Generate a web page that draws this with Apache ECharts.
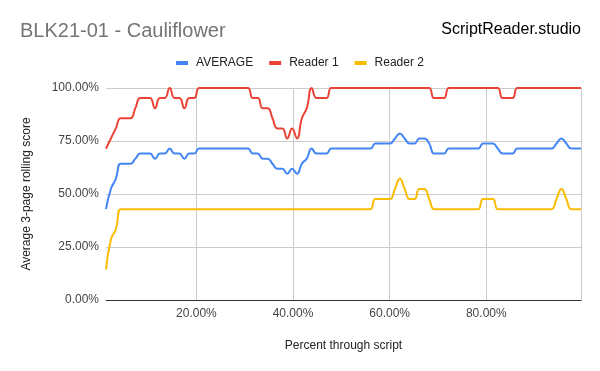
<!DOCTYPE html>
<html>
<head>
<meta charset="utf-8">
<script src="https://cdn.jsdelivr.net/npm/echarts@6/dist/echarts.min.js"></script>
<style>
html,body{margin:0;padding:0;background:#fff;}
#chart{width:600px;height:371px;}
</style>
</head>
<body>
<div id="chart"></div>
<script>
// Percent through script (x positions of data points)
const xs = [1.29,2.30,3.32,4.33,5.34,6.36,7.37,8.38,9.40,10.41,
11.43,12.44,13.45,14.47,15.48,16.49,17.51,18.52,19.53,20.55,
21.56,22.57,23.59,24.60,25.61,26.63,27.64,28.65,29.67,30.68,
31.70,32.71,33.72,34.74,35.75,36.76,37.78,38.79,39.80,40.82,
41.83,42.84,43.86,44.87,45.88,46.90,47.91,48.92,49.94,50.95,
51.97,52.98,53.99,55.01,56.02,57.03,58.05,59.06,60.07,61.09,
62.10,63.11,64.13,65.14,66.15,67.17,68.18,69.19,70.21,71.22,
72.24,73.25,74.26,75.28,76.29,77.30,78.32,79.33,80.34,81.36,
82.37,83.38,84.40,85.41,86.42,87.44,88.45,89.46,90.48,91.49,
92.51,93.52,94.53,95.55,96.56,97.57,98.59,99.60];

const average = [42.86,52.38,57.14,64.29,64.29,64.29,66.67,69.05,69.05,69.05,
66.67,69.05,69.05,71.43,69.05,69.05,66.67,69.05,69.05,71.43,
71.43,71.43,71.43,71.43,71.43,71.43,71.43,71.43,71.43,71.43,
69.05,69.05,66.67,66.67,64.29,61.90,61.90,59.52,61.90,59.52,
64.29,66.67,71.43,69.05,69.05,69.05,71.43,71.43,71.43,71.43,
71.43,71.43,71.43,71.43,71.43,73.81,73.81,73.81,73.81,76.19,
78.57,76.19,73.81,73.81,76.19,76.19,73.81,69.05,69.05,69.05,
71.43,71.43,71.43,71.43,71.43,71.43,71.43,73.81,73.81,73.81,
71.43,69.05,69.05,69.05,71.43,71.43,71.43,71.43,71.43,71.43,
71.43,71.43,73.81,76.19,73.81,71.43,71.43,71.43];

const reader1 = [71.43,76.19,80.95,85.71,85.71,85.71,90.48,95.24,95.24,95.24,
90.48,95.24,95.24,100,95.24,95.24,90.48,95.24,95.24,100,
100,100,100,100,100,100,100,100,100,100,
95.24,95.24,90.48,90.48,85.71,80.95,80.95,76.19,80.95,76.19,
85.71,90.48,100,95.24,95.24,95.24,100,100,100,100,
100,100,100,100,100,100,100,100,100,100,
100,100,100,100,100,100,100,95.24,95.24,95.24,
100,100,100,100,100,100,100,100,100,100,
100,95.24,95.24,95.24,100,100,100,100,100,100,
100,100,100,100,100,100,100,100];

const reader2 = [14.29,28.57,33.33,42.86,42.86,42.86,42.86,42.86,42.86,42.86,
42.86,42.86,42.86,42.86,42.86,42.86,42.86,42.86,42.86,42.86,
42.86,42.86,42.86,42.86,42.86,42.86,42.86,42.86,42.86,42.86,
42.86,42.86,42.86,42.86,42.86,42.86,42.86,42.86,42.86,42.86,
42.86,42.86,42.86,42.86,42.86,42.86,42.86,42.86,42.86,42.86,
42.86,42.86,42.86,42.86,42.86,47.62,47.62,47.62,47.62,52.38,
57.14,52.38,47.62,47.62,52.38,52.38,47.62,42.86,42.86,42.86,
42.86,42.86,42.86,42.86,42.86,42.86,42.86,47.62,47.62,47.62,
42.86,42.86,42.86,42.86,42.86,42.86,42.86,42.86,42.86,42.86,
42.86,42.86,47.62,52.38,47.62,42.86,42.86,42.86];

const seriesNames = ['AVERAGE', 'Reader 1', 'Reader 2'];
const xTickValues = [20, 40, 60, 80];
const yTickValues = [0, 25, 50, 75, 100];

const FONT = '"Liberation Sans", Arial, sans-serif';
const colors = ['#4285F4', '#EA4335', '#FBBC04'];
const pct = v => Number(v).toFixed(2) + '%';
const pairs = arr => xs.map((x, i) => [x, arr[i]]);

const chart = echarts.init(document.getElementById('chart'), null, {renderer: 'canvas'});
chart.setOption({
  animation: false,
  backgroundColor: '#fff',
  color: colors,
  textStyle: {fontFamily: FONT},
  title: [
    {text: 'BLK21-01 - Cauliflower', left: 20, top: 21, padding: 0,
     textStyle: {fontFamily: FONT, fontSize: 20, fontWeight: 'normal', color: '#757575'}},
    {text: 'ScriptReader.studio', right: 19, top: 22, padding: 0,
     textStyle: {fontFamily: FONT, fontSize: 16, fontWeight: 'normal', color: '#000'}}
  ],
  legend: {
    data: seriesNames,
    top: 52, left: 'center',
    icon: 'rect', itemWidth: 12, itemHeight: 4, itemGap: 16,
    textStyle: {fontFamily: FONT, fontSize: 12, color: '#222', padding: [0, 0, 0, 3]}
  },
  grid: {left: 106, right: 19, top: 88, bottom: 71, containLabel: false},
  xAxis: {
    type: 'value', min: xs[0], max: xs[xs.length - 1],
    name: 'Percent through script', nameLocation: 'middle', nameGap: 40,
    nameTextStyle: {fontFamily: FONT, fontSize: 12, color: '#222'},
    axisLine: {show: true, lineStyle: {color: '#333', width: 1}},
    axisTick: {show: false, customValues: xTickValues},
    axisLabel: {customValues: xTickValues, formatter: pct, margin: 8, fontSize: 12, color: '#444', fontFamily: FONT},
    splitLine: {show: true, lineStyle: {color: '#ccc', width: 1}}
  },
  yAxis: [{
    type: 'value', min: yTickValues[0], max: yTickValues[yTickValues.length - 1], interval: 25,
    name: 'Average 3-page rolling score', nameLocation: 'middle', nameGap: 73,
    nameTextStyle: {fontFamily: FONT, fontSize: 12, color: '#222'},
    axisLine: {show: false}, axisTick: {show: false},
    axisLabel: {formatter: pct, margin: 7, fontSize: 12, color: '#444', fontFamily: FONT},
    splitLine: {show: true, lineStyle: {color: '#ccc', width: 1}}
  }, {
    type: 'value', position: 'right', min: 0, max: 100,
    axisLine: {show: true, lineStyle: {color: '#ccc', width: 1}},
    axisTick: {show: false}, axisLabel: {show: false}, splitLine: {show: false}
  }],
  series: [
    {name: seriesNames[0], type: 'line', data: pairs(average), smooth: 0.5, showSymbol: false,
     lineStyle: {width: 2, color: colors[0]}, z: 3},
    {name: seriesNames[1], type: 'line', data: pairs(reader1), smooth: 0.5, showSymbol: false,
     lineStyle: {width: 2, color: colors[1]}, z: 3},
    {name: seriesNames[2], type: 'line', data: pairs(reader2), smooth: 0.5, showSymbol: false,
     lineStyle: {width: 2, color: colors[2]}, z: 3}
  ]
});
</script>
</body>
</html>
